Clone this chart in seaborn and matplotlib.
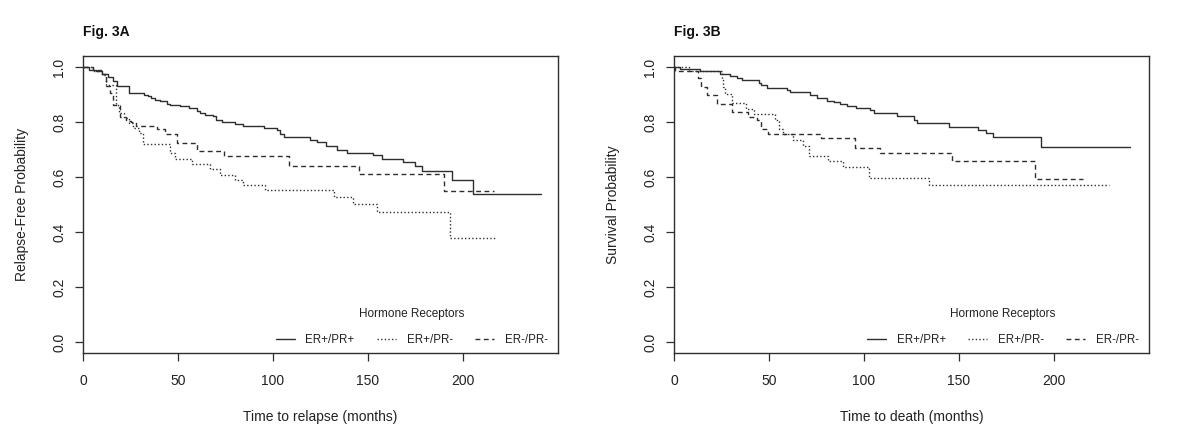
import matplotlib
matplotlib.use("Agg")
import matplotlib.pyplot as plt
import seaborn as sns
from matplotlib.lines import Line2D

# ---------------- data ----------------
groups = ["ER+/PR+", "ER+/PR-", "ER-/PR-"]

# Fig. 3A  relapse-free probability
relapse_pp_t = [0, 3, 7, 10, 13, 16, 18, 24, 32, 34, 36, 38, 40.5, 44, 46, 51, 56, 60, 61.6,
                64, 68.6, 70, 73, 80, 84.4, 95, 102, 103.7, 106, 119.5, 123, 128, 133.5, 138.8,
                152.8, 157.2, 168.6, 174.7, 178.3, 194, 205, 241]
relapse_pp_s = [1.0, 0.99, 0.985, 0.975, 0.965, 0.95, 0.93, 0.905, 0.899, 0.893, 0.887, 0.881,
                0.875, 0.866, 0.863, 0.857, 0.851, 0.841, 0.833, 0.827, 0.821, 0.809, 0.80, 0.791,
                0.784, 0.777, 0.77, 0.755, 0.745, 0.735, 0.728, 0.713, 0.699, 0.689, 0.679, 0.665,
                0.653, 0.639, 0.623, 0.589, 0.54, 0.54]

relapse_pn_t = [0, 5, 10, 12, 17.4, 19, 21.5, 24, 26.5, 29.5, 31.8, 45.8, 48.4, 57.2, 66.8, 72.1,
                80, 84.4, 95.8, 132, 142, 154.5, 193, 217]
relapse_pn_s = [1.0, 0.985, 0.97, 0.935, 0.863, 0.833, 0.815, 0.797, 0.779, 0.761, 0.719, 0.689,
                0.665, 0.647, 0.629, 0.607, 0.589, 0.571, 0.551, 0.527, 0.503, 0.473, 0.38, 0.38]

relapse_nn_t = [0, 5, 10, 12, 14, 16, 19.5, 22.5, 25, 28, 39, 43, 49.5, 60, 74.2, 108.6, 145.4,
                190, 216.3]
relapse_nn_s = [1.0, 0.99, 0.975, 0.93, 0.905, 0.863, 0.82, 0.805, 0.799, 0.787, 0.775, 0.755,
                0.723, 0.693, 0.675, 0.64, 0.611, 0.549, 0.549]

# Fig. 3B  survival probability
death_pp_t = [0, 3, 13.7, 24.3, 29.5, 33, 35.7, 44.5, 46, 49, 59.4, 61, 71.7, 75, 80.5, 84, 87.5,
              91, 96, 103, 105, 117.4, 126.5, 128, 144.6, 160, 164, 168, 193, 240]
death_pp_s = [1.0, 0.994, 0.984, 0.976, 0.967, 0.96, 0.951, 0.943, 0.933, 0.923, 0.915, 0.909,
              0.899, 0.887, 0.878, 0.872, 0.864, 0.858, 0.85, 0.842, 0.833, 0.823, 0.808, 0.796,
              0.781, 0.771, 0.759, 0.745, 0.708, 0.708]

death_pn_t = [0, 8, 25, 26, 27, 30.7, 37.8, 42.3, 53.2, 55, 57.5, 62.8, 68, 70.8, 81, 89, 102.5,
              134, 229]
death_pn_s = [1.0, 0.985, 0.957, 0.927, 0.903, 0.869, 0.848, 0.83, 0.806, 0.775, 0.755, 0.735,
              0.712, 0.678, 0.66, 0.638, 0.598, 0.572, 0.572]

death_nn_t = [0, 0.5, 12.5, 14, 17.6, 22.6, 30.5, 38.8, 43.5, 46, 49.5, 77.5, 95.4, 108.5, 146.3,
              190.2, 215]
death_nn_s = [1.0, 0.985, 0.96, 0.927, 0.897, 0.866, 0.836, 0.818, 0.806, 0.775, 0.757, 0.741,
              0.706, 0.689, 0.659, 0.593, 0.593]

x_ticks = [0, 50, 100, 150, 200]
y_ticks = [0.0, 0.2, 0.4, 0.6, 0.8, 1.0]
y_tick_labels = ["0.0", "0.2", "0.4", "0.6", "0.8", "1.0"]

# ---------------- style ----------------
sns.set_theme(style="ticks")
plt.rcParams["font.family"] = ["Liberation Sans", "DejaVu Sans"]
ink = "#2e2e2e"
styles = ["-", (0, (1, 1.6)), (0, (3.5, 2.5))]
lw = 1.0

fig = plt.figure(figsize=(12, 4.44), dpi=100)
W, H = 1200, 444
ax1 = fig.add_axes([83 / W, 1 - 353 / H, 475 / W, 297 / H])
ax2 = fig.add_axes([674 / W, 1 - 353 / H, 475 / W, 297 / H])

panels = [
    (ax1, [(relapse_pp_t, relapse_pp_s), (relapse_pn_t, relapse_pn_s), (relapse_nn_t, relapse_nn_s)],
     "Fig. 3A", "Relapse-Free Probability", "Time to relapse (months)"),
    (ax2, [(death_pp_t, death_pp_s), (death_pn_t, death_pn_s), (death_nn_t, death_nn_s)],
     "Fig. 3B", "Survival Probability", "Time to death (months)"),
]

for ax, curves, title, ylab, xlab in panels:
    for (t, s), ls in zip(curves, styles):
        sns.lineplot(x=t, y=s, ax=ax, drawstyle="steps-post", color=ink, linestyle=ls,
                     linewidth=lw, estimator=None, sort=False)
    ax.set_xlim(0, 250)
    ax.set_ylim(-0.04, 1.04)
    ax.set_xticks(x_ticks)
    ax.set_xticklabels([str(v) for v in x_ticks])
    ax.set_yticks(y_ticks)
    ax.set_yticklabels(y_tick_labels, rotation=90, va="center")
    ax.tick_params(axis="both", direction="out", length=6, width=0.9, color=ink,
                   labelsize=10, labelcolor="#222222", pad=6)
    ax.tick_params(axis="x", pad=9)
    for sp in ax.spines.values():
        sp.set_visible(True)
        sp.set_color(ink)
        sp.set_linewidth(1.0)
    ax.set_xlabel(xlab, fontsize=10, color="#222222", labelpad=16)
    ax.set_ylabel(ylab, fontsize=10, color="#222222", labelpad=17)
    ax.text(0.0, 1.068, title, transform=ax.transAxes, fontsize=10, fontweight="bold",
            ha="left", va="baseline", color="#111111")
    handles = [Line2D([], [], color=ink, linestyle=ls, linewidth=lw) for ls in styles]
    leg = ax.legend(handles, groups, title="Hormone Receptors", ncol=3, frameon=False,
                    loc="lower right", bbox_to_anchor=(1.0, -0.01), fontsize=8.3,
                    title_fontsize=8.5, handlelength=1.7, handletextpad=0.9,
                    columnspacing=1.9)
    leg.get_title().set_color("#222222")
    for txt in leg.get_texts():
        txt.set_color("#222222")
    leg._legend_box.sep = 10

fig.savefig("out.png", dpi=100, facecolor="white")
